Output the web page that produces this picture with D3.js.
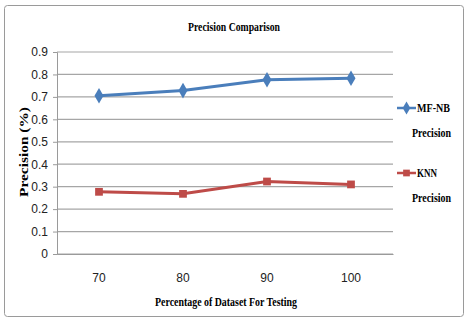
<!DOCTYPE html>
<html>
<head>
<meta charset="utf-8">
<script src="https://cdn.jsdelivr.net/npm/d3@7"></script>
<style>
  body { margin: 0; background: white; }
</style>
</head>
<body>
<div id="container"></div>
<script>
/* CONSTANTS AND GLOBALS */
const width = 468;
const height = 320;

/* DATA */
const categories = ["70", "80", "90", "100"];
const mfnbValues = [0.705, 0.728, 0.776, 0.783];
const knnValues = [0.277, 0.268, 0.323, 0.310];
const yTicks = [0, 0.1, 0.2, 0.3, 0.4, 0.5, 0.6, 0.7, 0.8, 0.9];

const margin = { top: 52, right: 75, bottom: 66, left: 57 };

const svg = d3.select("#container")
  .append("svg")
  .attr("width", width)
  .attr("height", height)
  .style("background-color", "white");

// outer frame
svg.append("rect")
  .attr("x", 4.5).attr("y", 5.5)
  .attr("width", 459).attr("height", 311)
  .attr("rx", 3)
  .attr("fill", "white")
  .attr("stroke", "#9a9a9a");

/* SCALES */
const xScale = d3.scaleBand()
  .domain(categories)
  .range([margin.left, width - margin.right]);

const yScale = d3.scaleLinear()
  .domain([0, 0.9])
  .range([height - margin.bottom, margin.top]);

/* GRIDLINES */
svg.selectAll(".grid")
  .data(yTicks)
  .join("line")
  .attr("class", "grid")
  .attr("x1", margin.left)
  .attr("x2", width - margin.right)
  .attr("y1", d => yScale(d))
  .attr("y2", d => yScale(d))
  .attr("stroke", "#a6a6a6")
  .attr("stroke-width", 1.2);

/* AXES */
const yAxis = svg.append("g")
  .attr("transform", `translate(${margin.left},0)`)
  .call(d3.axisLeft(yScale).tickValues(yTicks).tickFormat(d => d === 0 ? "0" : d3.format(".1f")(d)).tickSize(4).tickPadding(5));

const xAxis = svg.append("g")
  .attr("transform", `translate(0,${height - margin.bottom})`)
  .call(d3.axisBottom(xScale).tickSize(0).tickPadding(19));

[yAxis, xAxis].forEach(g => {
  g.select(".domain").attr("stroke", "#9a9a9a");
  g.selectAll(".tick line").attr("stroke", "#9a9a9a");
  g.selectAll("text")
    .attr("fill", "#222")
    .style("font-family", "'Liberation Sans Narrow', 'Liberation Sans', sans-serif")
    .style("font-size", "12px");
});

/* LINES */
const series = [
  { name: "MF-NB", values: mfnbValues, color: "#4a7ebb", shape: d3.symbolDiamond },
  { name: "KNN", values: knnValues, color: "#be4b48", shape: d3.symbolSquare }
];

const line = d3.line()
  .x((d, i) => xScale(categories[i]) + xScale.bandwidth() / 2)
  .y(d => yScale(d));

series.forEach(s => {
  svg.append("path")
    .datum(s.values)
    .attr("d", line)
    .attr("fill", "none")
    .attr("stroke", s.color)
    .attr("stroke-width", 3);

  svg.selectAll(".pt-" + s.name)
    .data(s.values)
    .join("path")
    .attr("transform", (d, i) => `translate(${xScale(categories[i]) + xScale.bandwidth() / 2},${yScale(d)})`)
    .attr("d", d3.symbol().type(s.shape).size(s.shape === d3.symbolSquare ? 60 : 70))
    .attr("fill", s.color);
});

/* TITLES */
const serif = "'Liberation Serif', 'Times New Roman', serif";

svg.append("text")
  .attr("x", 234).attr("y", 31)
  .attr("text-anchor", "middle")
  .attr("textLength", 92)
  .attr("lengthAdjust", "spacingAndGlyphs")
  .style("font-family", serif)
  .style("font-weight", "bold")
  .style("font-size", "12px")
  .text("Precision Comparison");

svg.append("text")
  .attr("transform", "translate(28,152) rotate(-90)")
  .attr("text-anchor", "middle")
  .attr("textLength", 90)
  .attr("lengthAdjust", "spacingAndGlyphs")
  .style("font-family", serif)
  .style("font-weight", "bold")
  .style("font-size", "12px")
  .text("Precision (%)");

svg.append("text")
  .attr("x", 226).attr("y", 306)
  .attr("text-anchor", "middle")
  .attr("textLength", 142)
  .attr("lengthAdjust", "spacingAndGlyphs")
  .style("font-family", serif)
  .style("font-weight", "bold")
  .style("font-size", "12px")
  .text("Percentage of Dataset For Testing");

/* LEGEND */
const legend = svg.selectAll(".legend")
  .data(series)
  .join("g")
  .attr("class", "legend")
  .attr("transform", (d, i) => `translate(397,${108 + i * 65})`);

legend.append("line")
  .attr("x1", 0).attr("x2", 19)
  .attr("stroke", d => d.color)
  .attr("stroke-width", 2.5);

legend.append("path")
  .attr("transform", "translate(9.5,0)")
  .attr("d", d => d3.symbol().type(d.shape).size(d.shape === d3.symbolSquare ? 45 : 50)())
  .attr("fill", d => d.color);

legend.append("text")
  .attr("x", 20).attr("y", 4)
  .attr("textLength", d => d.name === "KNN" ? 20 : 33)
  .attr("lengthAdjust", "spacingAndGlyphs")
  .style("font-family", serif)
  .style("font-weight", "bold")
  .style("font-size", "12px")
  .text(d => d.name);

legend.append("text")
  .attr("x", 15).attr("y", 29)
  .attr("textLength", 39)
  .attr("lengthAdjust", "spacingAndGlyphs")
  .style("font-family", serif)
  .style("font-weight", "bold")
  .style("font-size", "12px")
  .text("Precision");
</script>
</body>
</html>
